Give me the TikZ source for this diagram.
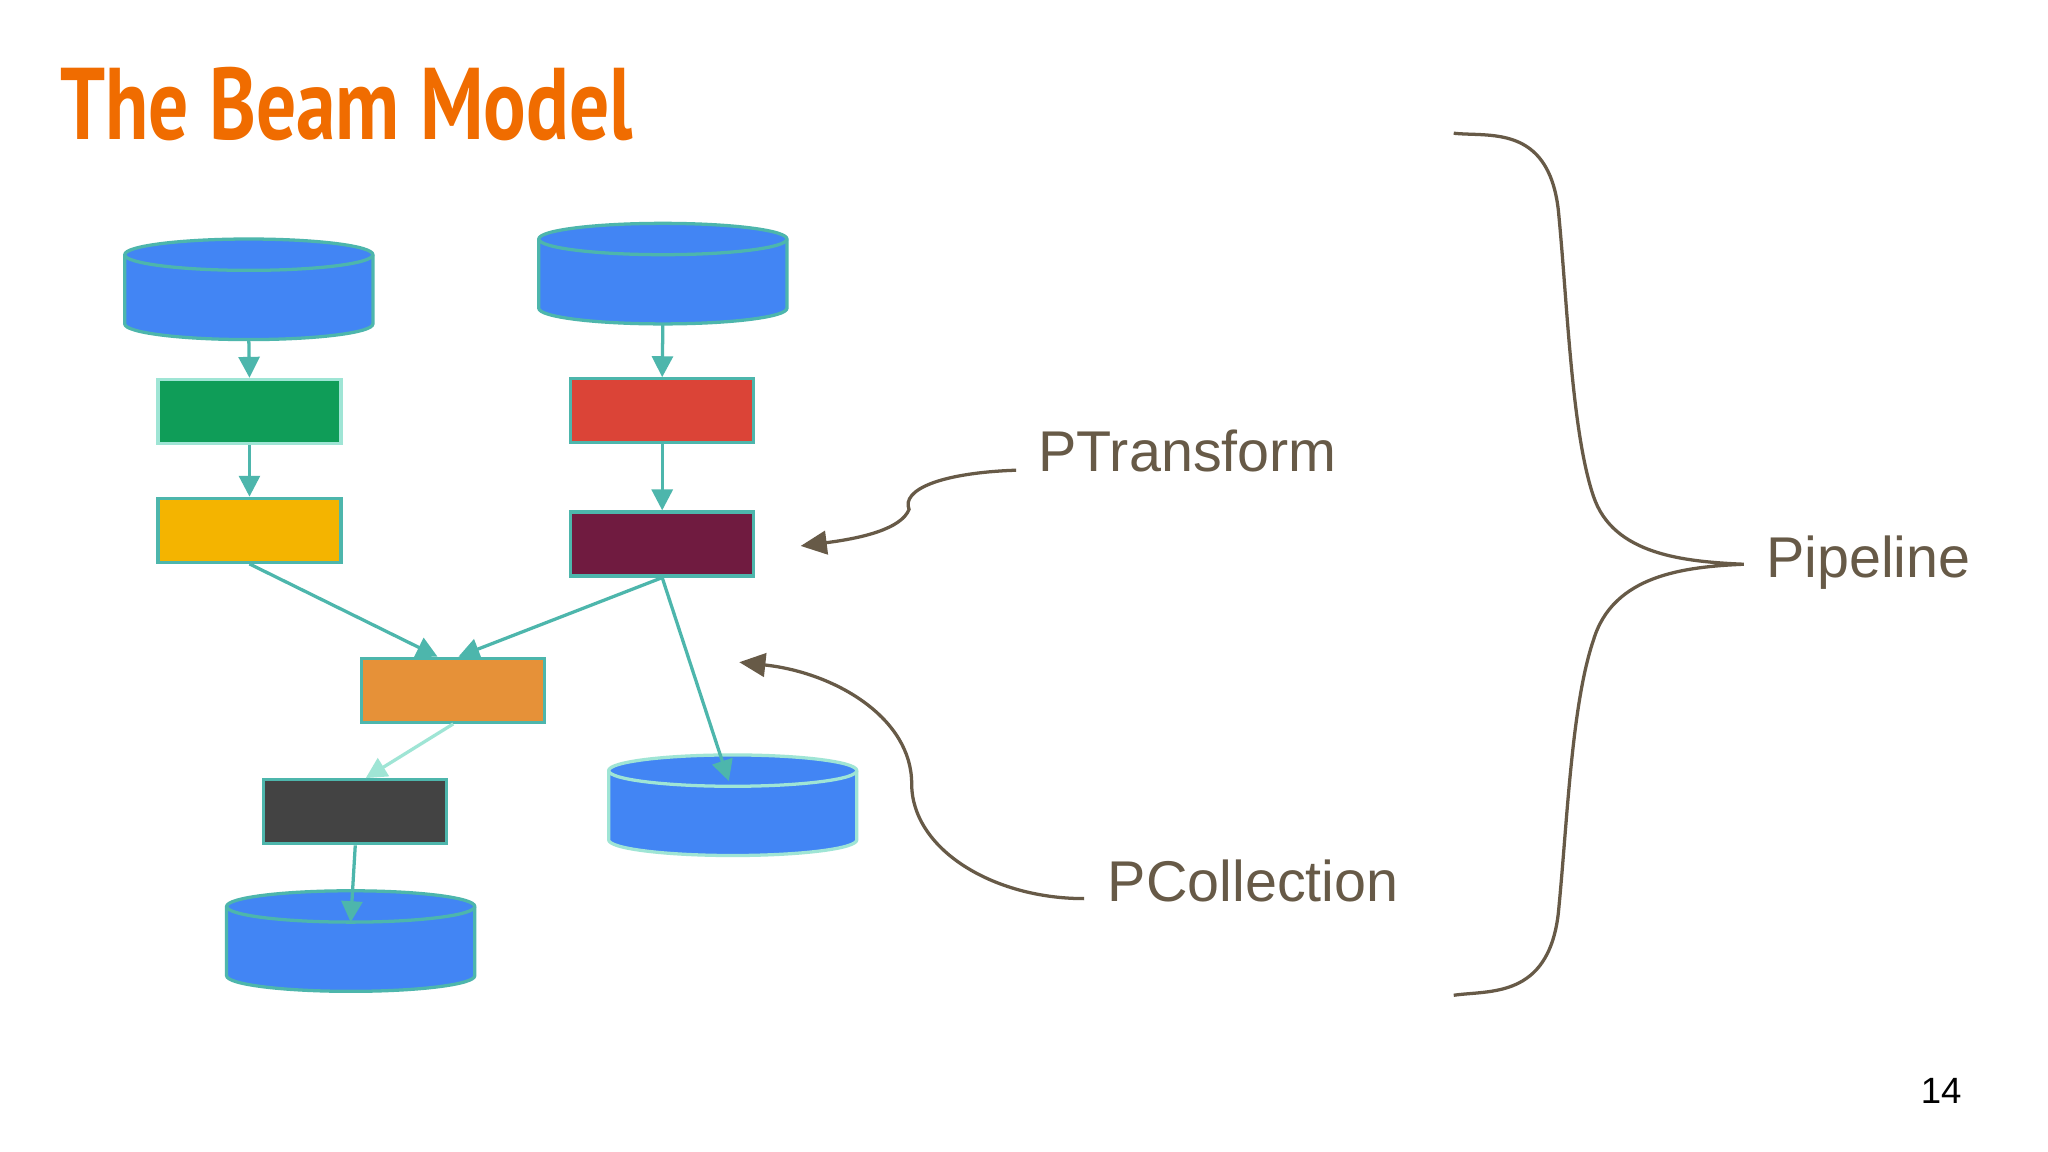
\documentclass[tikz,border=0pt]{standalone}
\usepackage{fontspec}
\setmainfont{Liberation Sans}
\newfontfamily\titlefont{PT Sans}
\usetikzlibrary{arrows.meta}
\definecolor{teal}{HTML}{4DB6AC}
\definecolor{lteal}{HTML}{9FE5D5}
\definecolor{cblue}{HTML}{4285F4}
\definecolor{brn}{HTML}{675A47}
\begin{document}
\begin{tikzpicture}[x=1pt,y=-1pt,
  box/.style={draw=teal,line width=2.5pt,minimum width=140pt,minimum height=49pt,inner sep=0pt},
  edge/.style={draw=teal,line width=2.5pt,-{Triangle[length=16pt,width=16pt]}},
  ann/.style={draw=brn,line width=2.5pt},
  lbl/.style={text=brn,font=\fontsize{44}{50}\selectfont,inner sep=0pt,anchor=base west}]
\useasboundingbox[fill=white] (0,0) rectangle (1568,882);
\node[text={rgb,255:red,240;green,108;blue,0},font=\titlefont\bfseries\fontsize{78}{80}\selectfont,anchor=base west,inner sep=0pt,xscale=0.78] (title) at (46,107) {The Beam Model};
% cylinders
\newcommand{\cyl}[5]{% name, cx, top, bottom, outline
  \fill[cblue,draw=#5,line width=2.5pt] (#2-95,#3) -- (#2-95,#4-12) arc[start angle=180,end angle=360,x radius=95,y radius=-12] -- (#2+95,#3) arc[start angle=0,end angle=180,x radius=95,y radius=-12] -- cycle;
  \draw[#5,line width=2.5pt] (#2-95,#3) arc[start angle=180,end angle=360,x radius=95,y radius=-12];
  \coordinate (#1t) at (#2,#3+12); \coordinate (#1b) at (#2,#4);}
\cyl{c1}{190.5}{195}{260}{teal}
\cyl{c2}{507.5}{183}{248}{teal}
\cyl{c3}{561}{590}{655}{lteal}
\cyl{c4}{268.5}{694}{759}{teal}
\node[box,fill={rgb,255:red,15;green,157;blue,88},draw=lteal] (g) at (191,315) {};
\node[box,fill={rgb,255:red,244;green,180;blue,0}] (y) at (191,406) {};
\node[box,fill={rgb,255:red,219;green,68;blue,55}] (r) at (507,314.5) {};
\node[box,fill={rgb,255:red,112;green,27;blue,64}] (m) at (507,416.5) {};
\node[box,fill={rgb,255:red,230;green,145;blue,56}] (o) at (347,528.5) {};
\node[box,fill={rgb,255:red,67;green,67;blue,67}] (d) at (272,621.5) {};
\draw[edge] (c1b) -- (g.north);
\draw[edge] (g.south) -- (y.north);
\draw[edge] (c2b) -- (r.north);
\draw[edge] (r.south) -- (m.north);
\draw[edge] (y.south) -- ([xshift=-12pt]o.north);
\draw[edge] (m.south) -- ([xshift=4pt]o.north);
\draw[edge] (m.south) -- ([xshift=-3pt,yshift=4pt]c3t);
\draw[edge,draw=lteal] (o.south) -- ([xshift=8pt]d.north);
\draw[edge] (d.south) -- (c4t);
% annotations
\node[lbl] (pt) at (795,361) {PTransform};
\node[lbl] (pc) at (848,690) {PCollection};
\node[lbl] (pl) at (1352,442) {Pipeline};
\coordinate (pta) at (613,418);
\coordinate (pca) at (566,507);
\draw[ann,-{Triangle[length=20pt,width=18pt]}] (778,360) .. controls (720,362) and (690,375) .. (696,390) .. controls (690,405) and (660,412) .. (pta);
\draw[ann,-{Triangle[length=20pt,width=18pt]}] (830,688) .. controls (760,688) and (698,650) .. (698,600) .. controls (698,550) and (640,515) .. (pca);
\draw[ann] (1113,102) .. controls (1140,105) and (1185,95) .. (1193,160) .. controls (1200,230) and (1203,330) .. (1220,380) .. controls (1235,425) and (1290,430) .. (1335,432) .. controls (1290,434) and (1235,440) .. (1220,490) .. controls (1203,540) and (1200,630) .. (1193,700) .. controls (1185,765) and (1140,758) .. (1113,762);
\node[font=\fontsize{28}{30}\selectfont,anchor=base east,inner sep=0pt] (num) at (1502,845) {14};
\end{tikzpicture}
\end{document}
